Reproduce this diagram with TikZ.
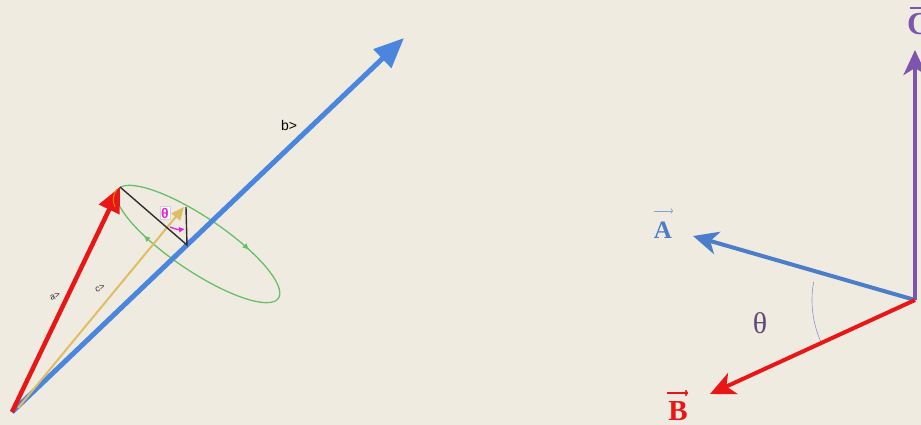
\documentclass[tikz,border=0pt]{standalone}
\usepackage{fontspec}
\setmainfont{Liberation Serif}
\newfontfamily\sansf{Liberation Sans}
\usetikzlibrary{arrows.meta,decorations.markings}
\definecolor{paper}{RGB}{240,235,224}
\definecolor{vred}{RGB}{232,22,22}
\definecolor{vblue}{RGB}{74,134,222}
\definecolor{ablue}{RGB}{75,125,200}
\definecolor{vpurple}{RGB}{125,85,175}
\definecolor{vtan}{RGB}{222,190,100}
\definecolor{vgreen}{RGB}{105,190,105}
\definecolor{vmag}{RGB}{220,40,210}
\definecolor{thcol}{RGB}{95,75,115}
\definecolor{arccol}{RGB}{130,150,200}
\definecolor{dark}{RGB}{50,45,45}
\tikzset{
  tinylbl/.style={font=\sansf\fontsize{9}{10}\selectfont, text=dark, inner sep=0pt},
  sthead/.style={-{Stealth[length=25pt,width=23pt,inset=7pt]}},
}
\begin{document}
\begin{tikzpicture}[x=1pt,y=-1pt]
\fill[paper] (0,0) rectangle (921,425);
\useasboundingbox (0,0) rectangle (921,425);

% ---------- left figure ----------
\coordinate (o1) at (12,412);
\coordinate (atip) at (120,187);
\coordinate (btip) at (404,38);
\coordinate (cst) at (18,408);
\coordinate (ctip) at (184,207);
\coordinate (foot) at (187,245);
\coordinate (topc) at (186,207);
\coordinate (ec) at (198,244);

\draw[vgreen, line width=1.3pt, rotate around={-34:(ec)},
  postaction={decorate, decoration={markings,
    mark=at position 0.37 with {\arrow{Latex[length=7pt,width=6pt]}},
    mark=at position 0.86 with {\arrow{Latex[length=7pt,width=6pt]}}}}]
  (ec) ellipse [x radius=97, y radius=27];

\draw[vblue, line width=5pt, -{Triangle[length=30pt,width=25pt]}] (o1) -- (btip);
\draw[vtan, line width=2pt, -{Triangle[length=13pt,width=11pt]}] (cst) -- (ctip);
\draw[vred, line width=4.5pt, -{Triangle[length=25pt,width=22pt]}] (o1) -- (atip);
\draw[dark, line width=1.4pt] (atip) -- (foot) -- (topc);
\draw[orange!80!brown, line width=1pt] (117,189) to[bend right=30] (115,207);
\draw[vmag, line width=1.3pt, -{Latex[length=6pt,width=6pt]}] (170,227) to[bend right=15] (185,229);

\node[draw=gray!35, fill=white, inner sep=1.5pt, text=vmag, font=\sansf\bfseries\fontsize{14}{15}\selectfont] (th1) at (165,213) {θ};
\node[tinylbl, rotate=20] (la) at (55,296) {a>};
\node[tinylbl, rotate=20] (lc) at (100,288) {c>};
\node[font=\sansf\fontsize{14}{15}\selectfont, text=black, inner sep=0pt] (lb) at (289,125) {b>};

% ---------- right figure ----------
\coordinate (O) at (915,300);
\coordinate (Atip) at (693,236);
\coordinate (Btip) at (710,394);
\coordinate (Ctip) at (915,50);

\draw[arccol, line width=0.6pt] (O) ++(190:103) arc[start angle=190, end angle=155, radius=103];
\draw[vpurple, line width=4pt, sthead] (O) -- (Ctip);
\draw[ablue, line width=4pt, sthead] (O) -- (Atip);
\draw[vred, line width=4pt, sthead] (O) -- (Btip);

\node[text=ablue, font=\bfseries\fontsize{25}{27}\selectfont, inner sep=0pt, anchor=base] (Alab) at (663,238) {A};
\draw[ablue!70, line width=0.7pt, -{To[length=2.5pt]}] (654,211) -- (673,211);
\node[text=vred, font=\bfseries\fontsize{29}{31}\selectfont, inner sep=0pt, anchor=base] (Blab) at (678,420) {B};
\draw[vred, line width=1.6pt, -{To[length=3pt]}] (667,393) -- (688,393);
\node[text=vpurple, font=\bfseries\fontsize{32}{34}\selectfont, inner sep=0pt, anchor=base west] (Clab) at (907,35) {C};
\draw[vpurple, line width=1.8pt] (910,8) -- (930,8);
\node[text=thcol, font=\fontsize{30}{32}\selectfont, inner sep=0pt] (th2) at (760,323) {θ};
\end{tikzpicture}
\end{document}
